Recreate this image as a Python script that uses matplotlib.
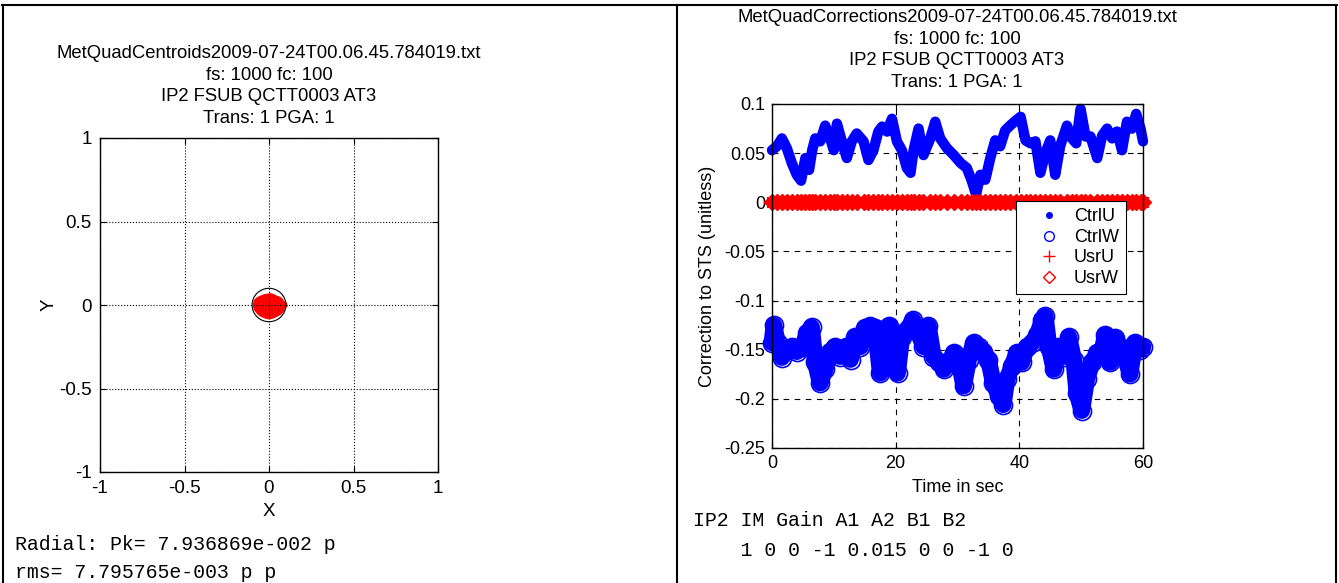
import matplotlib
matplotlib.use("Agg")
import matplotlib.pyplot as plt
from matplotlib.lines import Line2D
from matplotlib.patches import Circle, Polygon

W, H, DPI = 1339, 583, 100
BLUE, RED = "#0000ff", "#ff0000"
plt.rcParams.update({
    "font.family": ["Liberation Sans", "DejaVu Sans"],
    "font.size": 13,
    "xtick.direction": "in", "ytick.direction": "in",
    "xtick.top": True, "ytick.right": True,
    "xtick.major.size": 4, "ytick.major.size": 4,
    "axes.linewidth": 1.0,
})

# ---- centroid panel ----
centroid_title = ["MetQuadCentroids2009-07-24T00.06.45.784019.txt",
                  "fs: 1000 fc: 100", "IP2 FSUB QCTT0003 AT3", "Trans: 1 PGA: 1"]
# outline of the centroid cloud (x, y in normalised units)
cloud_x = [-0.090, -0.085, -0.070, -0.050, -0.030, -0.010, 0.010, 0.030, 0.045, 0.060,
           0.075, 0.085, 0.100, 0.105, 0.090, 0.080, 0.065, 0.045, 0.025, 0.005,
           -0.015, -0.035, -0.055, -0.070, -0.085]
cloud_y = [0.000, 0.025, 0.040, 0.050, 0.058, 0.062, 0.065, 0.058, 0.050, 0.045,
           0.035, 0.020, 0.010, -0.005, -0.020, -0.040, -0.055, -0.065, -0.075, -0.080,
           -0.078, -0.070, -0.060, -0.045, -0.025]
ring_radius = 0.1
axis_ticks = [-1, -0.5, 0, 0.5, 1]
radial_text = ["Radial: Pk= 7.936869e-002 p", "rms= 7.795765e-003 p p"]

# ---- corrections panel ----
corr_title = ["MetQuadCorrections2009-07-24T00.06.45.784019.txt",
              "fs: 1000 fc: 100", "IP2 FSUB QCTT0003 AT3", "Trans: 1 PGA: 1"]
t_u = [0.0, 0.8, 1.6, 2.4, 3.2, 4.0, 4.7, 5.4, 6.0, 6.5, 7.0, 7.8, 8.6, 9.4, 10.0,
       10.5, 11.3, 12.1, 12.9, 13.7, 14.8, 15.6, 16.4, 17.2, 17.8, 18.6, 19.4, 20.2,
       21.0, 21.8, 22.4, 22.9, 23.7, 24.5, 25.6, 26.4, 27.2, 28.3, 29.4, 30.5, 31.5,
       32.3, 33.0, 33.7, 34.5, 35.3, 36.1, 36.9, 37.7, 38.5, 39.4, 40.2, 41.0, 41.8,
       42.6, 43.4, 44.2, 45.0, 45.8, 46.6, 47.7, 48.5, 49.2, 49.9, 50.7, 51.5, 52.6,
       53.4, 54.2, 55.0, 55.8, 56.6, 57.4, 58.2, 58.9, 59.6, 60.0]
ctrl_u = [0.053, 0.057, 0.065, 0.055, 0.040, 0.028, 0.022, 0.045, 0.033, 0.053, 0.065,
          0.062, 0.078, 0.065, 0.053, 0.080, 0.062, 0.045, 0.062, 0.070, 0.062, 0.043,
          0.053, 0.072, 0.077, 0.072, 0.085, 0.062, 0.053, 0.035, 0.030, 0.053, 0.075,
          0.048, 0.065, 0.082, 0.065, 0.055, 0.048, 0.040, 0.035, 0.022, 0.008, 0.028,
          0.023, 0.045, 0.063, 0.057, 0.073, 0.078, 0.083, 0.087, 0.063, 0.060, 0.062,
          0.030, 0.050, 0.063, 0.028, 0.057, 0.078, 0.065, 0.060, 0.095, 0.067, 0.067,
          0.045, 0.068, 0.075, 0.065, 0.072, 0.053, 0.082, 0.075, 0.090, 0.075, 0.062]
t_w = [0.0, 0.3, 0.9, 1.6, 2.4, 3.2, 4.0, 4.9, 5.7, 6.4, 7.0, 7.8, 8.6, 9.4, 10.2,
       11.0, 11.9, 12.7, 13.5, 14.3, 15.1, 15.9, 16.7, 17.5, 18.3, 19.0, 19.7, 20.3,
       21.0, 21.8, 22.8, 23.7, 24.5, 25.3, 26.1, 27.0, 27.8, 28.6, 29.4, 30.2, 31.0,
       31.8, 32.6, 33.4, 34.2, 35.0, 35.8, 36.7, 37.4, 38.0, 38.8, 39.6, 40.4, 41.2,
       42.1, 42.9, 43.7, 44.2, 44.8, 45.6, 46.4, 47.2, 48.0, 48.8, 49.3, 50.1, 50.9,
       51.8, 52.6, 53.4, 53.9, 54.7, 55.5, 56.3, 57.1, 57.9, 58.7, 59.5, 60.0]
ctrl_w = [-0.143, -0.125, -0.143, -0.158, -0.150, -0.147, -0.152, -0.147, -0.133, -0.127,
          -0.163, -0.184, -0.170, -0.152, -0.147, -0.157, -0.147, -0.160, -0.137, -0.147,
          -0.128, -0.126, -0.128, -0.174, -0.167, -0.126, -0.160, -0.174, -0.137, -0.130,
          -0.120, -0.133, -0.147, -0.126, -0.157, -0.163, -0.170, -0.163, -0.153, -0.160,
          -0.187, -0.160, -0.143, -0.147, -0.152, -0.160, -0.184, -0.197, -0.206, -0.180,
          -0.167, -0.153, -0.163, -0.147, -0.143, -0.135, -0.120, -0.116, -0.147, -0.170,
          -0.147, -0.157, -0.137, -0.160, -0.194, -0.212, -0.180, -0.163, -0.153, -0.150,
          -0.135, -0.163, -0.138, -0.147, -0.157, -0.175, -0.143, -0.150, -0.147]
usr_u = [0.0] * len(t_u)
usr_w = [0.0] * len(t_u)
time_ticks = [0, 20, 40, 60]
corr_ticks = [-0.25, -0.2, -0.15, -0.1, -0.05, 0, 0.05, 0.1]
gain_text = ["IP2 IM Gain A1 A2 B1 B2", "    1 0 0 -1 0.015 0 0 -1 0"]


def fmt(v):
    return f"{v:g}"


def stacked_title(lines, cx, y0, dy=21.4):
    for i, line in enumerate(lines):
        fig.text(cx / W, 1 - (y0 + i * dy) / H, line, ha="center", va="center",
                 fontsize=13.3)


fig = plt.figure(figsize=(W / DPI, H / DPI), dpi=DPI)
fig.patch.set_facecolor("white")

# centroid scatter
ax1 = fig.add_axes([100 / W, 1 - 472 / H, 338 / W, 334 / H])
ax1.add_patch(Polygon(list(zip(cloud_x, cloud_y)), closed=True, color=RED, lw=1.5))
ax1.add_patch(Circle((0, 0), ring_radius, fill=False, ec="black", lw=0.8))
ax1.set_xlim(-1, 1)
ax1.set_ylim(-1, 1)
ax1.set_xticks(axis_ticks)
ax1.set_yticks(axis_ticks)
ax1.set_xticklabels([fmt(v) for v in axis_ticks])
ax1.set_yticklabels([fmt(v) for v in axis_ticks])
ax1.tick_params(labelsize=13.5, pad=6)
ax1.grid(True, ls=":", color="black", lw=0.8)
ax1.set_xlabel("X", fontsize=13.5, labelpad=4)
ax1.set_ylabel("Y", fontsize=13.5, labelpad=1)
stacked_title(centroid_title, 269, 54)

# correction traces
ax2 = fig.add_axes([772 / W, 1 - 448 / H, 371 / W, 344 / H])
ax2.plot(t_u, ctrl_u, color=BLUE, lw=7.5, marker=".", ms=9, clip_on=False,
         solid_joinstyle="round", solid_capstyle="round")
ax2.plot(t_w, ctrl_w, color=BLUE, lw=12, marker="o", ms=13, mfc="none", mew=1.2,
         clip_on=False, solid_joinstyle="round", solid_capstyle="round")
ax2.plot(t_u, usr_u, color=RED, lw=8, marker="+", ms=9, clip_on=False)
ax2.plot(t_u, usr_w, color=RED, lw=0, marker="D", ms=8, clip_on=False)
ax2.set_xlim(0, 60)
ax2.set_ylim(-0.25, 0.1)
ax2.set_xticks(time_ticks)
ax2.set_yticks(corr_ticks)
ax2.set_yticklabels([fmt(v) for v in corr_ticks])
ax2.tick_params(pad=5)
ax2.grid(True, ls=(0, (5, 5)), color="black", lw=0.8)
ax2.set_xlabel("Time in sec", labelpad=5)
ax2.set_ylabel("Correction to STS (unitless)", labelpad=6)
stacked_title(corr_title, 957, 18)

handles = [
    Line2D([], [], ls="none", marker=".", ms=8, color=BLUE),
    Line2D([], [], ls="none", marker="o", ms=7, mfc="none", color=BLUE),
    Line2D([], [], ls="none", marker="+", ms=9, color=RED),
    Line2D([], [], ls="none", marker="D", ms=6, mfc="none", color=RED),
]
leg = ax2.legend(handles, ["CtrlU", "CtrlW", "UsrU", "UsrW"], loc="upper left",
                 bbox_to_anchor=(0.658, 0.718), borderaxespad=0, fancybox=False,
                 edgecolor="black", framealpha=1, fontsize=13, handlelength=2.8,
                 handletextpad=0.0, labelspacing=0.2, borderpad=0.4)
leg.get_frame().set_linewidth(0.8)
leg.set_zorder(10)

# text under each panel
mono = dict(family=["Liberation Mono", "DejaVu Sans Mono"], fontsize=14.3, va="center")
fig.text(15 / W, 1 - 545 / H, radial_text[0], **mono)
fig.text(15 / W, 1 - 572 / H, radial_text[1], **mono)
fig.text(693 / W, 1 - 520 / H, gain_text[0], **mono)
fig.text(693 / W, 1 - 550 / H, gain_text[1], **mono)

# table rules
for x in (3, 677, 1336):
    fig.add_artist(Line2D([x / W, x / W], [0, 1 - 5 / H], color="black", lw=1.5))
fig.add_artist(Line2D([2 / W, 1337 / W], [1 - 5 / H, 1 - 5 / H], color="black", lw=1.5))

fig.savefig("out.png", dpi=DPI, facecolor="white")
